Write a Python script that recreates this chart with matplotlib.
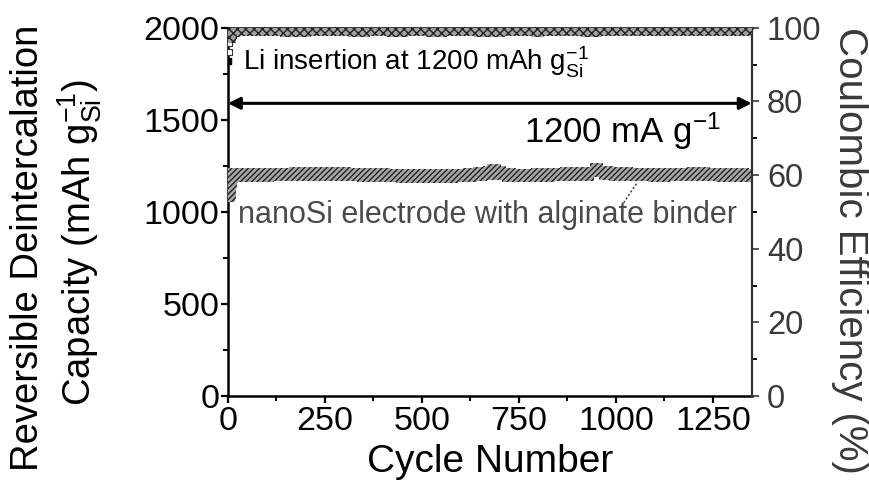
import matplotlib
matplotlib.use("Agg")
import matplotlib.pyplot as plt
from matplotlib.ticker import MultipleLocator

plt.rcParams["font.family"] = ["Liberation Sans", "DejaVu Sans"]
plt.rcParams["mathtext.fontset"] = "custom"
plt.rcParams["mathtext.rm"] = "Liberation Sans"
plt.rcParams["mathtext.it"] = "Liberation Sans:italic"
plt.rcParams["mathtext.bf"] = "Liberation Sans:bold"

# discharge (deintercalation) capacity, mAh/g Si
cap_cycles = [1, 2, 3, 5, 8, 12, 16, 25, 50, 75, 100, 125, 150, 175, 200, 225, 250,
              275, 300, 325, 350, 375, 400, 425, 450, 475, 500, 525, 550, 575,
              600, 625, 650, 675, 685, 700, 725, 750, 775, 800, 825, 850, 875,
              900, 925, 950, 975, 1000, 1025, 1050, 1075, 1100, 1125, 1150,
              1175, 1200, 1225, 1250, 1275, 1300, 1325, 1345]
capacity = [1090, 1110, 1140, 1170, 1195, 1200, 1200, 1200, 1200, 1200, 1202, 1203,
            1203, 1204, 1205, 1205, 1205, 1204, 1204, 1203, 1202, 1202, 1200,
            1198, 1196, 1195, 1194, 1194, 1193, 1196, 1198, 1200, 1205, 1212,
            1222, 1210, 1200, 1198, 1198, 1200, 1202, 1203, 1204, 1205, 1206,
            1228, 1212, 1205, 1204, 1203, 1203, 1202, 1202, 1203, 1203, 1204,
            1204, 1203, 1202, 1202, 1200, 1198]

# coulombic efficiency, %
ce_cycles = [1, 2, 3, 5, 8, 12, 16, 25, 50, 75, 100, 125, 150, 175, 200, 225, 250,
             275, 300, 325, 350, 375, 400, 425, 450, 475, 500, 525, 550, 575,
             600, 625, 650, 675, 700, 725, 750, 775, 800, 825, 850, 875, 900,
             925, 950, 975, 1000, 1025, 1050, 1075, 1100, 1125, 1150, 1175,
             1200, 1225, 1250, 1275, 1300, 1325, 1345]
ce = [91.0, 93.5, 96.0, 97.5, 98.5, 99.0, 99.2, 99.3, 99.3, 99.3, 99.3, 99.3,
      99.2, 99.2, 99.2, 99.3, 99.3, 99.3, 99.3, 99.2, 99.2, 99.3, 99.3, 99.2,
      99.2, 99.3, 99.3, 99.2, 99.2, 99.3, 99.3, 99.3, 99.2, 99.2, 99.2, 99.3,
      99.3, 99.3, 99.2, 99.3, 99.3, 99.3, 99.3, 99.2, 99.2, 99.3, 99.3, 99.3,
      99.3, 99.3, 99.3, 99.3, 99.3, 99.3, 99.3, 99.3, 99.3, 99.3, 99.3, 99.3,
      99.3]

x_ticks = [0, 250, 500, 750, 1000, 1250]
cap_ticks = [0, 500, 1000, 1500, 2000]
ce_ticks = [0, 20, 40, 60, 80, 100]
rate_line = 1590

fig = plt.figure(figsize=(8.7, 4.98), dpi=100)
ax = fig.add_axes([0.262, 0.205, 0.602, 0.739])
ax2 = ax.twinx()

ax.scatter(cap_cycles, capacity, marker="s", s=100, facecolor="#a8a8a8",
           edgecolor="#222222", hatch="//////", linewidths=0, zorder=3)
ax2.scatter(ce_cycles[3:], ce[3:], marker="s", s=70, facecolor="#a0a0a0",
            edgecolor="#222222", hatch="xxxx", linewidths=0, zorder=3)
ax2.plot(ce_cycles[:3], ce[:3], "s", ms=4, mfc="white", mec="#333333", mew=0.8)
ax2.plot(ce_cycles[0], ce[0], "s", ms=4, color="black")

ax.set_xlim(0, 1350)
ax.set_ylim(0, 2000)
ax2.set_ylim(0, 100)

ax.set_xticks(x_ticks)
ax.set_yticks(cap_ticks)
ax2.set_yticks(ce_ticks)
ax.xaxis.set_minor_locator(MultipleLocator(125))
ax.yaxis.set_minor_locator(MultipleLocator(250))
ax2.yaxis.set_minor_locator(MultipleLocator(10))

for a in (ax, ax2):
    a.tick_params(which="major", direction="out", length=5, width=1.6, labelsize=24.5, pad=1)
    a.tick_params(which="minor", direction="out", length=3.5, width=1.4)
ax.tick_params(axis="x", pad=2)
ax2.tick_params(axis="y", colors="#3a3a3a", width=1.2, labelsize=23.5, pad=6)

for side in ("left", "bottom", "top"):
    ax.spines[side].set_linewidth(1.8)
ax.spines["right"].set_visible(False)
ax2.spines["right"].set_linestyle((0, (1, 1)))
ax2.spines["right"].set_linewidth(1.6)
ax2.spines["right"].set_color("#333333")
for side in ("left", "bottom", "top"):
    ax2.spines[side].set_visible(False)

ax.set_xlabel("Cycle Number", fontsize=28, labelpad=5)

# axis titles placed by hand: the two-line left title sits lower than the axes centre
fig.text(28 / 870, 1 - 248 / 498, "Reversible Deintercalation", fontsize=27.5,
         rotation=90, ha="center", va="center")
fig.text(80 / 870, 1 - 242 / 498, r"Capacity (mAh $\mathrm{g_{Si}^{-1}}$)",
         fontsize=27.5, rotation=90, ha="center", va="center")
fig.text(850 / 870, 1 - 250 / 498, "Coulombic Efficiency (%)", fontsize=29,
         rotation=270, ha="center", va="center", color="#3a3a3a")

ax.annotate("", xy=(0, rate_line), xytext=(1350, rate_line),
            arrowprops=dict(arrowstyle="<|-|>", lw=2.2, color="black",
                            mutation_scale=18, shrinkA=0, shrinkB=0), zorder=4)
ax.text(38, 1815, r"Li insertion at 1200 mAh $\mathrm{g_{Si}^{-1}}$",
        fontsize=20, va="center", ha="left", zorder=5)
ax.text(1270, 1440, r"1200 mA $\mathrm{g^{-1}}$", fontsize=25,
        va="center", ha="right")
ax.text(25, 985, "nanoSi electrode with alginate binder", fontsize=22,
        va="center", ha="left", color="#4a4a4a")
ax.plot([1020, 1055], [1050, 1160], ls=(0, (1.5, 1.5)), lw=1, color="#333333")

fig.savefig("out.png", dpi=100)
